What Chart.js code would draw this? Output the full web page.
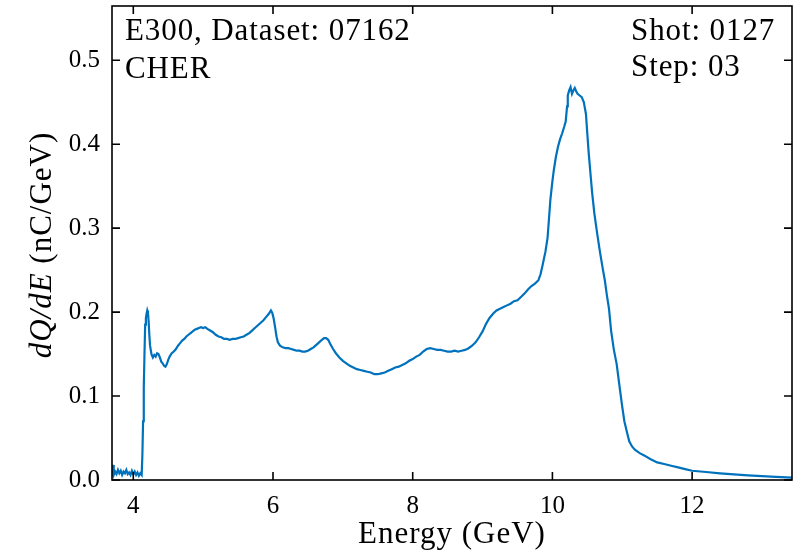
<!DOCTYPE html>
<html lang="en">
<head>
<meta charset="UTF-8">
<title>E300 CHER spectrum</title>
<script src="https://cdn.jsdelivr.net/npm/chart.js"></script>
<style>
  body { margin: 0; background: #fff; }
  #wrap { width: 808px; height: 555px; }
</style>
</head>
<body>
<div id="wrap"><canvas id="spectrum" width="808" height="555"></canvas></div>
<script>
// energy axis (GeV) and spectrum dQ/dE (nC/GeV)
const energy = [
  3.70, 3.71, 3.72, 3.74, 3.76, 3.78, 3.80, 3.82, 3.84, 3.86, 3.88, 3.90, 3.92, 3.94, 3.96, 3.98,
  4.00, 4.02, 4.04, 4.06, 4.08, 4.10, 4.12, 4.13, 4.14, 4.15, 4.16, 4.17, 4.18, 4.19, 4.20, 4.21, 4.22,
  4.23, 4.24, 4.26, 4.28, 4.30, 4.32, 4.34, 4.36, 4.38, 4.40, 4.42, 4.44, 4.46, 4.48, 4.50, 4.52,
  4.55, 4.58, 4.61, 4.64, 4.67, 4.70, 4.73, 4.76, 4.79, 4.82, 4.85, 4.88, 4.91, 4.94, 4.97, 5.00,
  5.03, 5.06, 5.10, 5.14, 5.18, 5.22, 5.26, 5.30, 5.34, 5.38, 5.42, 5.46, 5.50, 5.54, 5.58, 5.62,
  5.66, 5.70, 5.74, 5.78, 5.82, 5.86, 5.90, 5.94, 5.97, 5.99, 6.01, 6.03, 6.05, 6.07, 6.10, 6.14,
  6.18, 6.22, 6.26, 6.30, 6.34, 6.38, 6.42, 6.46, 6.50, 6.54, 6.58, 6.62, 6.66, 6.70, 6.73, 6.76,
  6.79, 6.82, 6.86, 6.90, 6.95, 7.00, 7.05, 7.10, 7.15, 7.20, 7.25, 7.30, 7.35, 7.40, 7.45, 7.50,
  7.55, 7.60, 7.65, 7.70, 7.75, 7.80, 7.85, 7.90, 7.95, 8.00, 8.05, 8.10, 8.15, 8.20, 8.25, 8.30,
  8.35, 8.40, 8.45, 8.50, 8.55, 8.60, 8.65, 8.70, 8.75, 8.80, 8.85, 8.90, 8.95, 9.00, 9.05, 9.10,
  9.15, 9.20, 9.25, 9.30, 9.35, 9.40, 9.45, 9.50, 9.55, 9.60, 9.65, 9.70, 9.75, 9.80, 9.83, 9.86,
  9.90, 9.93, 9.95, 9.97, 10.00, 10.02, 10.05, 10.08, 10.11, 10.14, 10.17, 10.19, 10.21, 10.22, 10.24, 10.26,
  10.28, 10.30, 10.32, 10.34, 10.36, 10.39, 10.42, 10.45, 10.48, 10.50, 10.52, 10.55, 10.57, 10.60, 10.64, 10.68,
  10.72, 10.75, 10.78, 10.81, 10.84, 10.88, 10.92, 10.96, 11.00, 11.03, 11.07, 11.10, 11.14, 11.18, 11.25, 11.32,
  11.40, 11.50, 11.60, 11.70, 11.80, 11.90, 12.00, 12.20, 12.40, 12.60, 12.80, 13.00, 13.20, 13.43
];
const charge = [
  0.004, 0.018, 0.006, 0.010, 0.007, 0.012, 0.008, 0.011, 0.006, 0.010, 0.008, 0.012, 0.007, 0.009, 0.006, 0.011,
  0.007, 0.010, 0.006, 0.009, 0.005, 0.008, 0.006, 0.030, 0.070, 0.110, 0.150, 0.185, 0.193, 0.198, 0.202, 0.199, 0.188,
  0.172, 0.160, 0.150, 0.146, 0.149, 0.147, 0.151, 0.150, 0.146, 0.141, 0.139, 0.136, 0.135, 0.138, 0.143, 0.147,
  0.151, 0.153, 0.156, 0.160, 0.163, 0.166, 0.168, 0.171, 0.173, 0.175, 0.177, 0.179, 0.180, 0.181, 0.182, 0.181,
  0.182, 0.180, 0.178, 0.176, 0.173, 0.171, 0.170, 0.168, 0.168, 0.167, 0.168, 0.168, 0.169, 0.170, 0.171, 0.173,
  0.175, 0.178, 0.181, 0.184, 0.187, 0.190, 0.194, 0.198, 0.202, 0.199, 0.192, 0.182, 0.171, 0.164, 0.160, 0.158,
  0.157, 0.157, 0.156, 0.155, 0.154, 0.154, 0.153, 0.153, 0.154, 0.156, 0.158, 0.161, 0.164, 0.167, 0.169, 0.169,
  0.167, 0.162, 0.156, 0.151, 0.146, 0.142, 0.139, 0.136, 0.134, 0.132, 0.131, 0.130, 0.129, 0.128, 0.126, 0.126,
  0.127, 0.128, 0.130, 0.132, 0.134, 0.135, 0.137, 0.139, 0.142, 0.144, 0.147, 0.149, 0.153, 0.156, 0.157, 0.156,
  0.155, 0.155, 0.154, 0.153, 0.153, 0.154, 0.153, 0.154, 0.155, 0.157, 0.160, 0.164, 0.170, 0.177, 0.186, 0.193,
  0.198, 0.202, 0.204, 0.206, 0.208, 0.210, 0.213, 0.214, 0.218, 0.222, 0.227, 0.231, 0.234, 0.238, 0.245, 0.256,
  0.272, 0.288, 0.310, 0.333, 0.356, 0.369, 0.385, 0.397, 0.406, 0.413, 0.421, 0.427, 0.445, 0.458, 0.464, 0.468,
  0.460, 0.464, 0.467, 0.463, 0.460, 0.458, 0.456, 0.450, 0.436, 0.412, 0.389, 0.360, 0.341, 0.318, 0.294, 0.272,
  0.252, 0.238, 0.220, 0.204, 0.178, 0.155, 0.138, 0.112, 0.087, 0.070, 0.056, 0.046, 0.040, 0.036, 0.032, 0.029,
  0.025, 0.021, 0.019, 0.017, 0.015, 0.013, 0.011, 0.0095, 0.008, 0.0067, 0.0055, 0.0045, 0.0037, 0.0028
];
const xTicks = [4, 6, 8, 10, 12];
const yTicks = [0, 0.1, 0.2, 0.3, 0.4, 0.5];
const infoLeft = ['E300, Dataset: 07162', 'CHER'];
const infoRight = ['Shot: 0127', 'Step: 03'];

const serif = '"Liberation Serif", "Times New Roman", serif';

// box all round, ticks pointing inward, annotations and axis titles
const framePlugin = {
  id: 'frame',
  afterDraw(chart) {
    const { ctx, chartArea: a, scales: { x, y } } = chart;
    ctx.save();
    ctx.strokeStyle = '#000';
    ctx.lineWidth = 1.6;
    ctx.strokeRect(a.left, a.top, a.right - a.left, a.bottom - a.top);
    ctx.beginPath();
    xTicks.forEach(v => {
      const px = x.getPixelForValue(v);
      ctx.moveTo(px, a.bottom); ctx.lineTo(px, a.bottom - 8);
      ctx.moveTo(px, a.top); ctx.lineTo(px, a.top + 8);
    });
    yTicks.forEach(v => {
      const py = y.getPixelForValue(v);
      ctx.moveTo(a.left, py); ctx.lineTo(a.left + 8, py);
      ctx.moveTo(a.right, py); ctx.lineTo(a.right - 8, py);
    });
    ctx.stroke();

    ctx.fillStyle = '#000';
    ctx.font = '31px ' + serif;
    ctx.letterSpacing = '0.9px';
    ctx.textBaseline = 'alphabetic';
    ctx.textAlign = 'left';
    ctx.fillText(infoLeft[0], 125, 40);
    ctx.fillText(infoLeft[1], 125, 78);
    ctx.fillText(infoRight[0], 631, 40);
    ctx.fillText(infoRight[1], 631, 76);

    // x title
    ctx.letterSpacing = '1px';
    ctx.textAlign = 'center';
    ctx.fillText('Energy (GeV)', (a.left + a.right) / 2, 543);

    // y title, italic dQ/dE then upright units
    ctx.textAlign = 'left';
    const part1 = 'dQ/dE', part2 = ' (nC/GeV)';
    ctx.font = 'italic 31px ' + serif;
    const w1 = ctx.measureText(part1).width;
    ctx.font = '31px ' + serif;
    const w2 = ctx.measureText(part2).width;
    ctx.translate(51, 245);
    ctx.rotate(-Math.PI / 2);
    ctx.font = 'italic 31px ' + serif;
    ctx.fillText(part1, -(w1 + w2) / 2, 0);
    ctx.font = '31px ' + serif;
    ctx.fillText(part2, -(w1 + w2) / 2 + w1, 0);
    ctx.restore();
  }
};

new Chart(document.getElementById('spectrum'), {
  type: 'line',
  data: {
    datasets: [{
      data: energy.map((e, i) => ({ x: e, y: charge[i] })),
      borderColor: '#0072BD',
      borderWidth: 2.2,
      pointRadius: 0,
      fill: false,
      tension: 0
    }]
  },
  options: {
    responsive: false,
    animation: false,
    devicePixelRatio: 1,
    layout: { padding: { top: 6, right: 16, left: 0, bottom: 0 } },
    plugins: { legend: { display: false }, tooltip: { enabled: false } },
    scales: {
      x: {
        type: 'linear',
        min: 3.695,
        max: 13.43,
        grid: { display: false },
        border: { display: false },
        afterBuildTicks: s => { s.ticks = xTicks.map(v => ({ value: v })); },
        afterFit: s => { s.height = 75; s.paddingLeft = 0; s.paddingRight = 0; },
        ticks: { color: '#000', padding: 3, maxRotation: 0, font: { family: serif, size: 25 } }
      },
      y: {
        type: 'linear',
        min: 0,
        max: 0.5646,
        grid: { display: false },
        border: { display: false },
        afterBuildTicks: s => { s.ticks = yTicks.map(v => ({ value: v })); },
        afterFit: s => { s.width = 112; s.paddingTop = 0; s.paddingBottom = 0; },
        ticks: { color: '#000', padding: 4, font: { family: serif, size: 25 }, callback: v => v.toFixed(1) }
      }
    }
  },
  plugins: [framePlugin]
});
</script>
</body>
</html>
